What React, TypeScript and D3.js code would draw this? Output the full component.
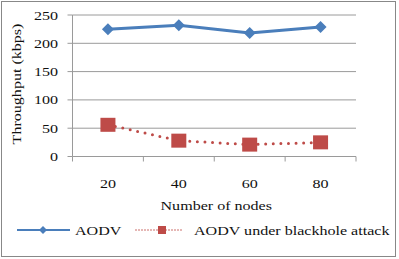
import React from "react";
import * as d3 from "d3";

const categories = ["20", "40", "60", "80"];
const aodv = [225, 232, 218, 229];
const blackhole = [56, 28, 21, 25];
const yTicks = [0, 50, 100, 150, 200, 250];
const seriesNames = ["AODV", "AODV under blackhole attack"];
const xTitle = "Number of nodes";
const yTitle = "Throughput (kbps)";

const W = 399;
const H = 259;
const FONT = "Liberation Serif, Tinos, serif";
const SX = 1.19;

function T({ x, y, anchor = "start", size = 13.5, rotate = 0, children }: any) {
  return (
    <text
      transform={`translate(${x},${y}) rotate(${rotate}) scale(${SX},1)`}
      textAnchor={anchor}
      style={{ fontFamily: FONT, fontSize: size }}
      fill="#111"
    >
      {children}
    </text>
  );
}

export default function App() {
  const left = 72.5;
  const right = 356;
  const top = 15;
  const bottom = 156.5;
  const x = d3.scaleBand().domain(categories).range([left, right]);
  const y = d3.scaleLinear().domain([0, 250]).range([bottom, top]);
  const cx = (c: string) => (x(c) as number) + x.bandwidth() / 2;

  const line = d3
    .line<number>()
    .x((_, i) => cx(categories[i]))
    .y((d) => y(d));

  const gridColor = "#9a9a9a";
  const blue = "#4a7ebb";
  const red = "#be4b48";

  const diamond = (px: number, py: number, r: number) =>
    `M${px},${py - r}L${px + r},${py}L${px},${py + r}L${px - r},${py}Z`;

  const boundaries = [...categories.map((c) => x(c) as number), right];

  return (
    <svg
      width={W}
      height={H}
      style={{ position: "absolute", left: 0, top: 0, background: "#fff" }}
    >
      <rect x={1.5} y={1.5} width={394} height={255} fill="#fff" stroke="#888" strokeWidth={1} />
      {yTicks.map((t) => (
        <line key={t} x1={left} x2={right} y1={y(t)} y2={y(t)} stroke={gridColor} strokeWidth={1} />
      ))}
      <line x1={left} x2={left} y1={top} y2={bottom} stroke={gridColor} />
      {yTicks.map((t) => (
        <line key={"yt" + t} x1={left - 5} x2={left} y1={y(t)} y2={y(t)} stroke={gridColor} />
      ))}
      {boundaries.map((b, i) => (
        <line key={"xt" + i} x1={b} x2={b} y1={bottom} y2={bottom + 5} stroke={gridColor} />
      ))}
      {yTicks.map((t) => (
        <T key={"yl" + t} x={58} y={y(t) + 4.5} anchor="end">
          {t}
        </T>
      ))}
      {categories.map((c) => (
        <T key={"xl" + c} x={cx(c)} y={188} anchor="middle">
          {c}
        </T>
      ))}
      <T x={(left + right) / 2 + 2} y={210} anchor="middle">
        {xTitle}
      </T>
      <T x={21} y={84} anchor="middle" rotate={-90}>
        {yTitle}
      </T>

      <path d={line(aodv) || ""} fill="none" stroke={blue} strokeWidth={3} />
      {aodv.map((v, i) => (
        <path key={"d" + i} d={diamond(cx(categories[i]), y(v), 6)} fill={blue} />
      ))}

      <path
        d={line(blackhole) || ""}
        fill="none"
        stroke={red}
        strokeWidth={3}
        strokeDasharray="0 7.6"
        strokeLinecap="round"
      />
      {blackhole.map((v, i) => (
        <rect key={"s" + i} x={cx(categories[i]) - 7.5} y={y(v) - 7} width={15} height={14} fill={red} />
      ))}

      <line x1={17} x2={70} y1={230} y2={230} stroke={blue} strokeWidth={2} />
      <path d={diamond(43, 230, 4)} fill={blue} />
      <T x={75} y={235}>{seriesNames[0]}</T>
      <line
        x1={136}
        x2={184}
        y1={230}
        y2={230}
        stroke={red}
        strokeWidth={1.5}
        strokeDasharray="0 3"
        strokeLinecap="round"
      />
      <rect x={158} y={226} width={8} height={8} fill={red} />
      <T x={194} y={235}>{seriesNames[1]}</T>
    </svg>
  );
}
